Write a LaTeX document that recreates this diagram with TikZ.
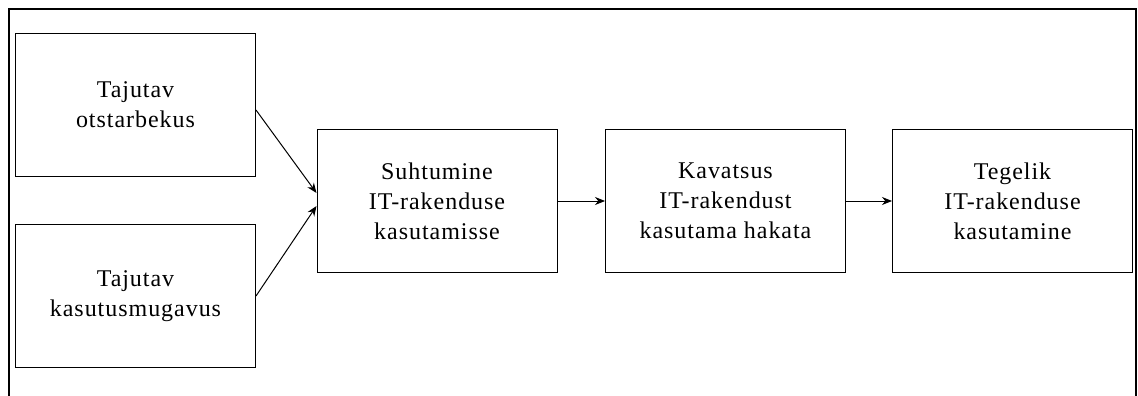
\documentclass[tikz,border=0pt]{standalone}
\usepackage{fontspec}
\setmainfont{Liberation Serif}[LetterSpace=4]
\usetikzlibrary{arrows.meta}

\tikzset{
    box/.style={draw, line width=1pt, minimum width=240pt, minimum height=143pt,
        inner sep=0pt, align=center, font=\fontsize{24}{30}\selectfont},
    link/.style={line width=1pt, -{Stealth[length=10pt,width=8pt]}}
}

\begin{document}
\begin{tikzpicture}[x=1pt, y=-1pt]
    % Fix the page size
    \useasboundingbox (0,0) rectangle (1138,396);

    % Outer frame (open at the bottom edge of the page)
    \draw[line width=2pt] (9,400) -- (9,9) -- (1136,9) -- (1136,400);

    % The two perceived factors on the left
    \node[box] (useful) at (135.5,105) {Tajutav\\otstarbekus};
    \node[box] (easy) at (135.5,296) {Tajutav\\kasutusmugavus};

    % The chain of boxes
    \node[box] (attitude) at (437,201) {Suhtumine\\IT-rakenduse\\kasutamisse};
    \node[box] (intent) at (725.5,201) {Kavatsus\\IT-rakendust\\kasutama hakata};
    \node[box] (usage) at (1012.5,201) {Tegelik\\IT-rakenduse\\kasutamine};

    % Arrows
    \draw[link] ([yshift=-5pt]useful.east) -- ([yshift=8pt]attitude.west);
    \draw[link] (easy.east) -- ([yshift=-5pt]attitude.west);
    \draw[link] (attitude) -- (intent);
    \draw[link] (intent) -- (usage);
\end{tikzpicture}
\end{document}
